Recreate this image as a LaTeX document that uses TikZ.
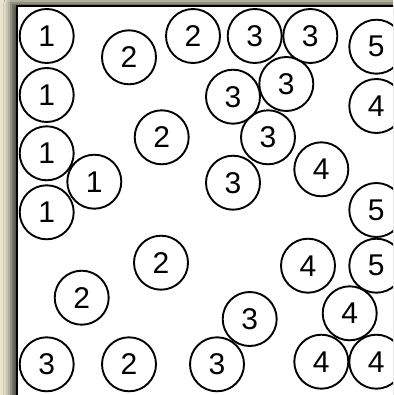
\documentclass[tikz,border=0pt]{standalone}
\usepackage{fontspec}
\setmainfont{Liberation Sans}
\usepackage{xcolor}
\usetikzlibrary{shadows.blur}
\definecolor{paper}{RGB}{233,228,204}

\tikzset{
  ball/.style={circle,draw,line width=1.9pt,minimum size=54pt,inner sep=0pt,
    font=\fontsize{30}{30}\selectfont},
}

\begin{document}
\begin{tikzpicture}[x=1pt,y=-1pt]
  \useasboundingbox (0,0) rectangle (393,395);
  \clip (0,0) rectangle (393,395);
  \fill[paper] (0,0) rectangle (393,395);
  % the box with its shadow
  \draw[fill=white,line width=2.2pt,
    blur shadow={shadow xshift=-6pt,shadow yshift=3pt,shadow blur radius=7pt,shadow opacity=75}]
    (17,6) rectangle (420,420);
  % the numbered balls
  \foreach \x/\y/\n [count=\i] in {
      46.7/36/1, 46.7/95/1, 46.7/153.3/1, 94.3/181.7/1, 46.7/212.3/1,
      129/57.3/2, 193/36/2, 161.7/137.3/2, 161/262.7/2, 81.7/297.7/2, 129/364.3/2,
      254.7/36/3, 310.3/36/3, 286.3/84/3, 233/96.7/3, 268/137.3/3, 233/182.7/3,
      249.7/319/3, 217/364.3/3, 46.7/364.3/3,
      376.3/106/4, 321.3/169.3/4, 308/265.7/4, 349.7/313.3/4, 321.3/361.7/4, 376.3/361.7/4,
      376.3/46.7/5, 376.3/210/5, 376.3/265.7/5}
    \node[ball] (b\i) at (\x,\y) {\n};
\end{tikzpicture}
\end{document}
